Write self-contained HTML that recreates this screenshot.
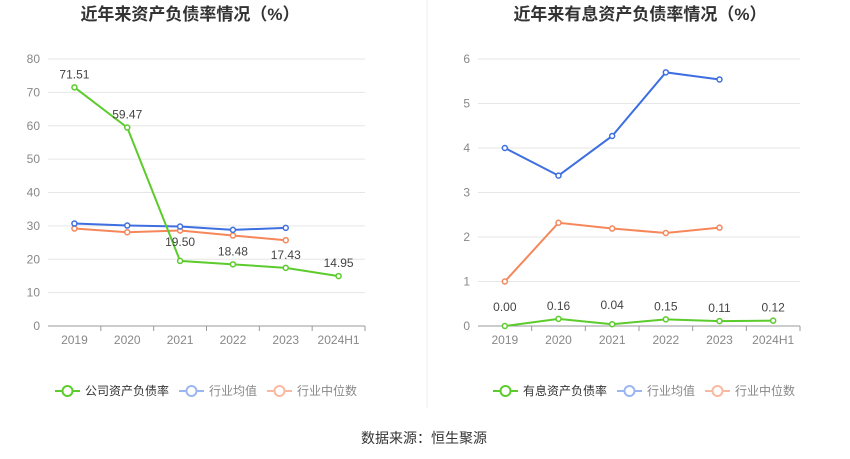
<!DOCTYPE html>
<html><head><meta charset="utf-8">
<style>
body{margin:0;background:#fff;font-family:"Liberation Sans","Noto Sans CJK SC",sans-serif;}
svg{display:block}
</style></head>
<body>
<svg id="c" width="850" height="459" xmlns="http://www.w3.org/2000/svg">
<text x="190" y="20" text-anchor="middle" font-size="17" font-weight="bold" fill="#333" font-family="Liberation Sans,Noto Sans CJK SC,sans-serif">近年来资产负债率情况（%）</text>
<text x="640" y="20" text-anchor="middle" font-size="17" font-weight="bold" fill="#333" font-family="Liberation Sans,Noto Sans CJK SC,sans-serif">近年来有息资产负债率情况（%）</text>
<line x1="427" y1="0" x2="427" y2="408" stroke="#eee"/>
<text x="424" y="443" text-anchor="middle" font-size="14" fill="#333" font-family="Liberation Sans,Noto Sans CJK SC,sans-serif">数据来源：恒生聚源</text>
</svg>
<script>
const categories=["2019","2020","2021","2022","2023","2024H1"];
const leftCompany=[71.51,59.47,19.50,18.48,17.43,14.95];
const leftAvg=[30.7,30.1,29.8,28.8,29.4];
const leftMedian=[29.2,28.1,28.6,27.1,25.7];
const leftTicks=[0,10,20,30,40,50,60,70,80];
const rightCompany=[0.00,0.16,0.04,0.15,0.11,0.12];
const rightAvg=[4.0,3.38,4.27,5.7,5.54];
const rightMedian=[1.0,2.32,2.19,2.09,2.21];
const rightTicks=[0,1,2,3,4,5,6];
const legendLeft=["公司资产负债率","行业均值","行业中位数"];
const legendRight=["有息资产负债率","行业均值","行业中位数"];

const NS="http://www.w3.org/2000/svg";
const svg=document.getElementById('c');
function mk(tag,attrs,parent){const e=document.createElementNS(NS,tag);for(const k in attrs)e.setAttribute(k,attrs[k]);(parent||svg).appendChild(e);return e;}
const FONT="Liberation Sans,Noto Sans CJK SC,sans-serif";

function chart(opt){
  const g=mk('g',{});
  
  
  const x0=opt.x0,x1=opt.x1,yb=326,yt=59;
  const max=opt.ticks[opt.ticks.length-1];
  const step=(x1-x0)/categories.length;
  const X=i=>x0+step*(i+0.5);
  const Y=v=>yb-(v/max)*(yb-yt);
  opt.ticks.forEach(t=>{
    const l=mk('line',{x1:x0,x2:x1,y1:Y(t),y2:Y(t),stroke:t===0?'#999':'#e6e6e6'},g);
    
    
    const tx=mk('text',{x:x0-8,y:Y(t)+4,'text-anchor':'end','font-size':12,fill:'#888','font-family':FONT},g);
    tx.textContent=t;
    
    
  });
  categories.forEach((c,i)=>{
    const tk=mk('line',{x1:x0+step*(i+1),x2:x0+step*(i+1),y1:yb,y2:yb+5,stroke:'#999'},g);
    
    
    const tx=mk('text',{x:X(i),y:yb+18,'text-anchor':'middle','font-size':12,fill:'#888','font-family':FONT},g);
    tx.textContent=c;
    
    
  });
  const series=[[opt.median,'#f5875a','median'],[opt.avg,'#3d6fe0','avg'],[opt.company,'#5ccb2c','company']];
  series.forEach(([d,col,nm])=>{
    const p=mk('polyline',{points:d.map((v,i)=>X(i)+','+Y(v)).join(' '),fill:'none',stroke:col,'stroke-width':2},g);
    
    
    d.forEach((v,i)=>{
      const c=mk('circle',{cx:X(i),cy:Y(v),r:2.5,fill:'#fff',stroke:col,'stroke-width':1.5},g);
      
      
    });
  });
  opt.company.forEach((v,i)=>{
    const tx=mk('text',{x:X(i),y:Y(v)-9+(opt.labelOffset[i]||0),'text-anchor':'middle','font-size':12,fill:'#444','font-family':FONT},g);
    tx.textContent=v.toFixed(2);
    
    
  });
  const cols=['#5ccb2c','#9bb6f0','#f9b9a0'];
  let lx=opt.legendX;
  opt.legend.forEach((t,i)=>{
    const lg=mk('g',{},g);
    
    
    mk('line',{x1:lx,x2:lx+25,y1:391,y2:391,stroke:cols[i],'stroke-width':2},lg);
    mk('circle',{cx:lx+12.5,cy:391,r:5,fill:'#fff',stroke:cols[i],'stroke-width':2},lg);
    const tx=mk('text',{x:lx+30,y:395,'font-size':12,fill:i===0?'#333':'#888','font-family':FONT},lg);
    tx.textContent=t;
    lx+=30+t.length*12+10;
  });
}
chart({name:'left-chart',x0:48,x1:365,ticks:leftTicks,company:leftCompany,avg:leftAvg,median:leftMedian,legend:legendLeft,legendX:55,labelOffset:[0,0,-6,0,0,0]});
chart({name:'right-chart',x0:478,x1:800,ticks:rightTicks,company:rightCompany,avg:rightAvg,median:rightMedian,legend:legendRight,legendX:493,labelOffset:[-6,0,-6,0,0,0]});
</script>
</body></html>
